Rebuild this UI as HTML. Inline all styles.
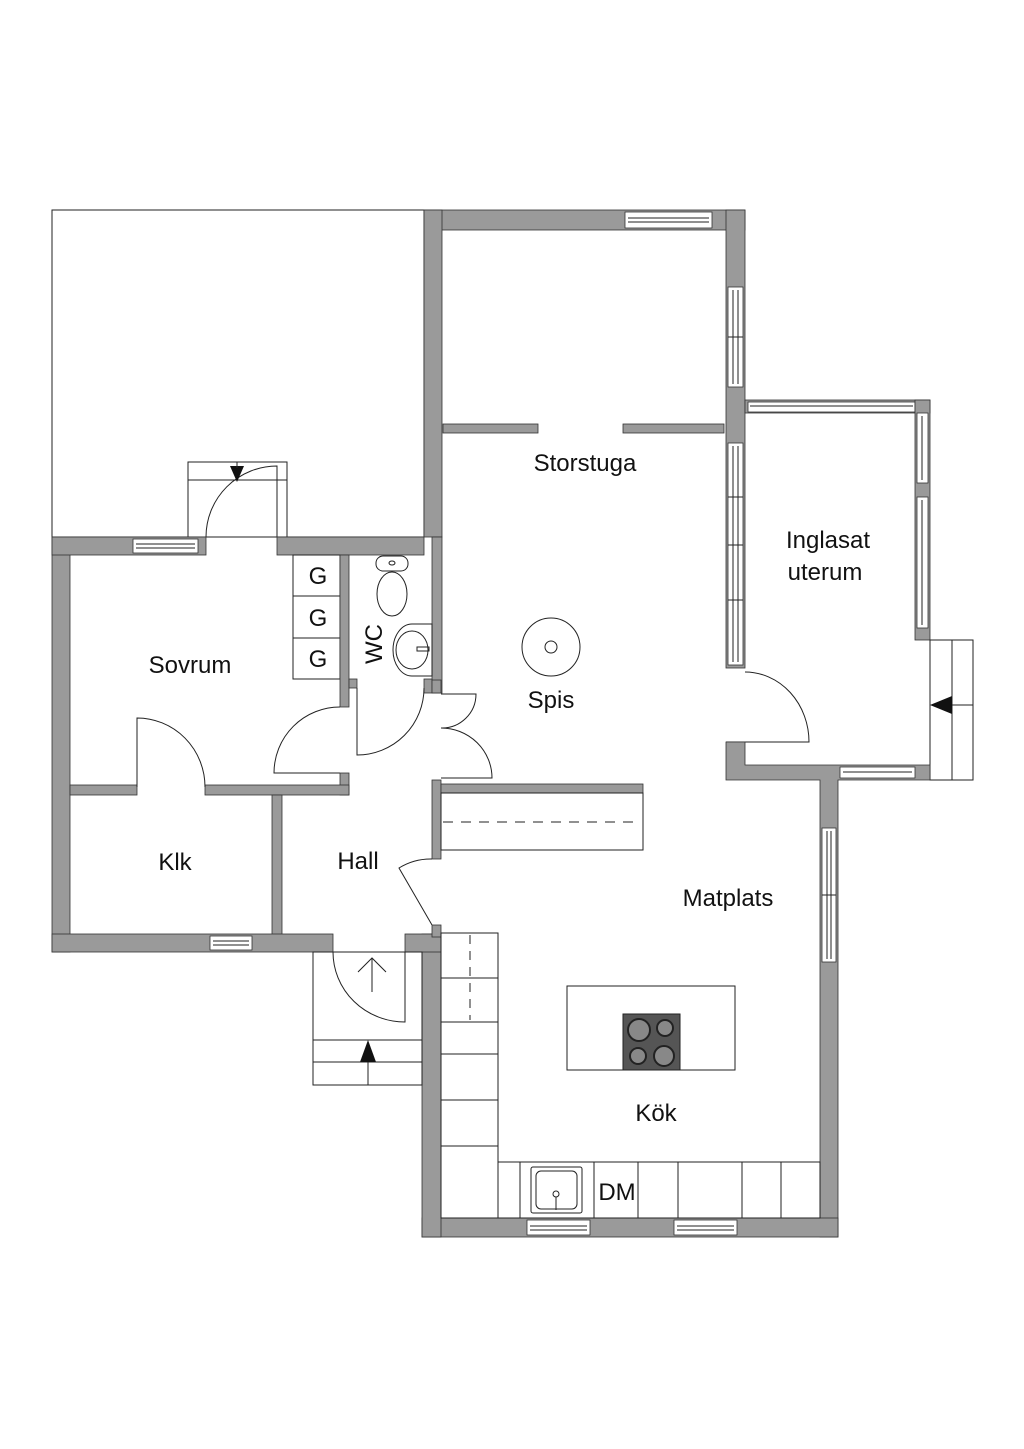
<!DOCTYPE html>
<html><head><meta charset="utf-8"><style>
html,body{margin:0;padding:0;background:#fff}
svg{display:block}
text{font-family:"Liberation Sans",sans-serif;font-size:24px;fill:#111}
.w{fill:#9a9a9a;stroke:#333;stroke-width:0.8}
.l{fill:none;stroke:#222;stroke-width:1}
.win{fill:#fff;stroke:#333;stroke-width:0.8}
</style></head><body>
<svg width="1024" height="1449" viewBox="0 0 1024 1449" xmlns="http://www.w3.org/2000/svg">
<rect x="52" y="210" width="372" height="327" class="l"/>
<rect x="188" y="462" width="99" height="75" class="l"/>
<line x1="188" y1="480" x2="287" y2="480" class="l"/>
<path d="M206,537 A71,71 0 0 1 277,466 L277,537" class="l"/>
<polygon points="230,466 244,466 237,482" fill="#111"/>
<line x1="237" y1="462" x2="237" y2="468" class="l"/>

<rect x="424" y="210" width="321" height="20" class="w"/>
<rect x="625" y="212" width="87" height="16" class="win"/>
<line x1="628" y1="218" x2="709" y2="218" class="l"/><line x1="628" y1="222" x2="709" y2="222" class="l"/>
<rect x="424" y="210" width="18" height="327" class="w"/>
<rect x="432" y="537" width="10" height="156" class="w"/>
<rect x="726" y="210" width="19" height="458" class="w"/>
<rect x="728" y="287" width="15" height="100" class="win"/>
<line x1="733" y1="290" x2="733" y2="384" class="l"/><line x1="738" y1="290" x2="738" y2="384" class="l"/>
<line x1="728" y1="337" x2="743" y2="337" class="l"/>
<rect x="728" y="443" width="15" height="222" class="win"/>
<line x1="733" y1="446" x2="733" y2="662" class="l"/><line x1="738" y1="446" x2="738" y2="662" class="l"/>
<line x1="728" y1="497" x2="743" y2="497" class="l"/><line x1="728" y1="545" x2="743" y2="545" class="l"/><line x1="728" y1="600" x2="743" y2="600" class="l"/>
<rect x="443" y="424" width="95" height="9" class="w"/>
<rect x="623" y="424" width="101" height="9" class="w"/>

<rect x="745" y="400" width="185" height="13" class="w"/>
<rect x="748" y="402" width="167" height="10" class="win"/>
<line x1="750" y1="406" x2="913" y2="406" class="l"/>
<rect x="915" y="400" width="15" height="240" class="w"/>
<rect x="917" y="413" width="11" height="70" class="win"/>
<line x1="922" y1="416" x2="922" y2="480" class="l"/>
<rect x="917" y="497" width="11" height="131" class="win"/>
<line x1="922" y1="500" x2="922" y2="625" class="l"/>
<rect x="930" y="640" width="43" height="140" class="l"/>
<line x1="952" y1="640" x2="952" y2="780" class="l"/>
<line x1="952" y1="705" x2="973" y2="705" class="l"/>
<polygon points="930,705 952,696 952,714" fill="#111"/>
<path d="M745,672 A64,70 0 0 1 809,742 L726,742" class="l"/>
<path d="M726,742 L745,742 L745,765 L930,765 L930,780 L838,780 L838,1237 L820,1237 L820,780 L726,780 Z" class="w"/>
<rect x="840" y="767" width="75" height="11" class="win"/>
<line x1="843" y1="772" x2="912" y2="772" class="l"/>
<rect x="822" y="828" width="14" height="134" class="win"/>
<line x1="827" y1="831" x2="827" y2="959" class="l"/><line x1="831" y1="831" x2="831" y2="959" class="l"/>
<line x1="822" y1="895" x2="836" y2="895" class="l"/>

<rect x="422" y="1218" width="416" height="19" class="w"/>
<rect x="527" y="1220" width="63" height="15" class="win"/>
<line x1="530" y1="1226" x2="587" y2="1226" class="l"/><line x1="530" y1="1230" x2="587" y2="1230" class="l"/>
<rect x="674" y="1220" width="63" height="15" class="win"/>
<line x1="677" y1="1226" x2="734" y2="1226" class="l"/><line x1="677" y1="1230" x2="734" y2="1230" class="l"/>
<rect x="422" y="934" width="19" height="303" class="w"/>
<rect x="405" y="934" width="36" height="18" class="w"/>
<rect x="432" y="925" width="9" height="12" class="w"/>
<rect x="432" y="780" width="9" height="79" class="w"/>
<rect x="441" y="784" width="202" height="9" class="w"/>
<rect x="441" y="793" width="202" height="57" class="l"/>
<line x1="443" y1="822" x2="640" y2="822" stroke="#222" stroke-dasharray="10,8"/>
<path d="M432,859 A60,60 0 0 0 399,868 L432,925" class="l"/>

<rect x="52" y="537" width="18" height="415" class="w"/>
<rect x="52" y="537" width="154" height="18" class="w"/>
<rect x="133" y="539" width="65" height="14" class="win"/>
<line x1="136" y1="544" x2="195" y2="544" class="l"/><line x1="136" y1="548" x2="195" y2="548" class="l"/>
<rect x="277" y="537" width="147" height="18" class="w"/>
<rect x="293" y="555" width="47" height="124" class="l"/>
<line x1="293" y1="596" x2="340" y2="596" class="l"/><line x1="293" y1="638" x2="340" y2="638" class="l"/>
<text x="318" y="584" text-anchor="middle">G</text>
<text x="318" y="626" text-anchor="middle">G</text>
<text x="318" y="667" text-anchor="middle">G</text>
<rect x="340" y="555" width="9" height="152" class="w"/>
<rect x="349" y="679" width="8" height="9" class="w"/>
<rect x="424" y="679" width="8" height="14" class="w"/>
<rect x="432" y="680" width="9" height="13" class="w"/>
<rect x="376" y="556" width="32" height="15" rx="7" class="l"/>
<ellipse cx="392" cy="563" rx="3" ry="2" class="l"/>
<ellipse cx="392" cy="594" rx="15" ry="22" class="l"/>
<path d="M432,624 L412,624 A19,26 0 0 0 412,676 L432,676 Z" class="l"/>
<ellipse cx="412" cy="650" rx="16" ry="19" class="l"/>
<rect x="417" y="647" width="12" height="4" class="l"/>
<text transform="translate(382,644) rotate(-90)" text-anchor="middle">WC</text>
<path d="M357,688 L357,755 A67,67 0 0 0 424,688" class="l"/>
<path d="M340,707 A66,66 0 0 0 274,773 L340,773" class="l"/>
<rect x="340" y="773" width="9" height="22" class="w"/>
<path d="M441,694 L476,694 A34,34 0 0 1 441,728 A51,50 0 0 1 492,778 L441,778" class="l"/>
<rect x="70" y="785" width="67" height="10" class="w"/>
<rect x="205" y="785" width="144" height="10" class="w"/>
<path d="M205,787 A68,69 0 0 0 137,718 L137,787" class="l"/>
<rect x="272" y="795" width="10" height="140" class="w"/>
<rect x="52" y="934" width="281" height="18" class="w"/>
<rect x="210" y="936" width="42" height="14" class="win"/>
<line x1="213" y1="941" x2="249" y2="941" class="l"/><line x1="213" y1="945" x2="249" y2="945" class="l"/>
<rect x="313" y="952" width="109" height="133" class="l"/>
<line x1="313" y1="1040" x2="422" y2="1040" class="l"/>
<line x1="313" y1="1062" x2="422" y2="1062" class="l"/>
<line x1="368" y1="1062" x2="368" y2="1085" class="l"/>
<polygon points="368,1040 360,1062 376,1062" fill="#111"/>
<path d="M333,952 A72,70 0 0 0 405,1022 L405,952" class="l"/>
<path d="M372,992 L372,958 M358,972 L372,958 L386,972" class="l"/>

<rect x="441" y="933" width="57" height="285" class="l"/>
<line x1="441" y1="978" x2="498" y2="978" class="l"/>
<line x1="441" y1="1022" x2="498" y2="1022" class="l"/>
<line x1="441" y1="1054" x2="498" y2="1054" class="l"/>
<line x1="441" y1="1100" x2="498" y2="1100" class="l"/>
<line x1="441" y1="1146" x2="498" y2="1146" class="l"/>
<line x1="470" y1="935" x2="470" y2="1020" stroke="#222" stroke-dasharray="9,7"/>
<rect x="498" y="1162" width="322" height="56" class="l"/>
<line x1="520" y1="1162" x2="520" y2="1218" class="l"/>
<line x1="594" y1="1162" x2="594" y2="1218" class="l"/>
<line x1="638" y1="1162" x2="638" y2="1218" class="l"/>
<line x1="678" y1="1162" x2="678" y2="1218" class="l"/>
<line x1="742" y1="1162" x2="742" y2="1218" class="l"/>
<line x1="781" y1="1162" x2="781" y2="1218" class="l"/>
<rect x="531" y="1167" width="51" height="46" rx="2" class="l"/>
<rect x="536" y="1171" width="41" height="38" rx="5" class="l"/>
<circle cx="556" cy="1194" r="3" class="l"/>
<line x1="556" y1="1197" x2="556" y2="1210" class="l"/>
<text x="617" y="1200" text-anchor="middle">DM</text>
<rect x="567" y="986" width="168" height="84" class="l"/>
<rect x="623" y="1014" width="57" height="56" fill="#555" stroke="#222"/>
<circle cx="639" cy="1030" r="11" fill="#888" stroke="#222" stroke-width="2"/>
<circle cx="665" cy="1028" r="8" fill="#888" stroke="#222" stroke-width="2"/>
<circle cx="638" cy="1056" r="8" fill="#888" stroke="#222" stroke-width="2"/>
<circle cx="664" cy="1056" r="10" fill="#888" stroke="#222" stroke-width="2"/>
<circle cx="551" cy="647" r="29" class="l"/>
<circle cx="551" cy="647" r="6" class="l"/>

<text x="585" y="471" text-anchor="middle">Storstuga</text>
<text x="828" y="548" text-anchor="middle">Inglasat</text>
<text x="825" y="580" text-anchor="middle">uterum</text>
<text x="190" y="673" text-anchor="middle">Sovrum</text>
<text x="551" y="708" text-anchor="middle">Spis</text>
<text x="175" y="870" text-anchor="middle">Klk</text>
<text x="358" y="869" text-anchor="middle">Hall</text>
<text x="728" y="906" text-anchor="middle">Matplats</text>
<text x="656" y="1121" text-anchor="middle">Kök</text>
</svg>
</body></html>
